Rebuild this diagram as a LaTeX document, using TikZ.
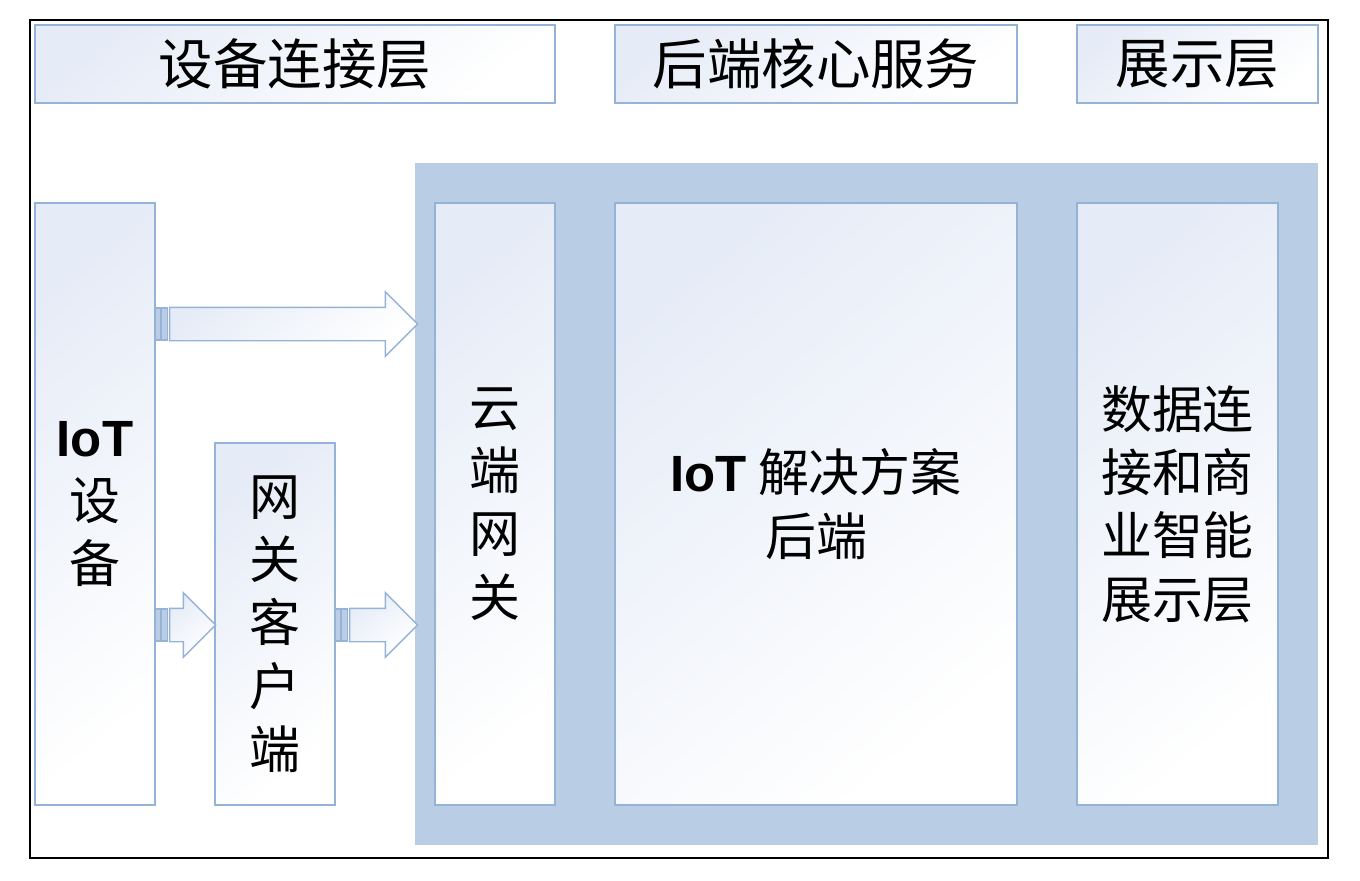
\documentclass[tikz,border=0pt]{standalone}
\usepackage{fontspec}
\setmainfont{Liberation Sans}
\newfontfamily\cjk{Noto Sans CJK SC}
\usetikzlibrary{shapes.arrows}
\usetikzlibrary{positioning}
\usetikzlibrary{calc}
\definecolor{lineblue}{HTML}{95B3D7}
\definecolor{backblue}{HTML}{B9CDE5}
\definecolor{shadeblue}{HTML}{E6ECF7}
\definecolor{barblue}{HTML}{8EAAD3}
\tikzset{
    layer/.style = {rectangle, draw=lineblue, line width=1pt, inner sep=0pt, align=center,
        top color=shadeblue, bottom color=white, shading angle=40,
        font=\cjk\fontsize{29}{36}\selectfont},
    header/.style = {layer, minimum height=1.56cm, font=\cjk\fontsize{31}{36}\selectfont},
    column/.style = {layer, minimum width=2.4cm},
    bigarrow/.style = {single arrow, draw=lineblue, line width=0.8pt, inner sep=0pt,
        text height=0.64cm, text depth=0pt, minimum width=1.26cm,
        single arrow head extend=0.31cm, anchor=west,
        top color=shadeblue, bottom color=white, shading angle=40},
    bar/.style = {draw=lineblue, line width=0.6pt, fill=barblue!60},
    frame/.style = {draw=black, line width=0.8pt}
}

\begin{document}
\begin{tikzpicture}[x=0.02cm, y=-0.02cm]
\useasboundingbox (0,0) rectangle (1360,880);
%
\draw[frame] (30,20) rectangle (1328,858);
\fill[backblue] (415,163) rectangle (1318,845);
%
\node[header, minimum width=10.4cm] at (295,64) (hdev) {设备连接层};
\node[header, minimum width=8.04cm] at (816,64) (hcore) {后端核心服务};
\node[header, minimum width=4.82cm] at (1197.5,64) (hshow) {展示层};
%
\node[column, minimum height=12.04cm] at (95,504) (dev) {{\normalfont\bfseries IoT}\\设\\备};
\node[column, minimum height=7.24cm] at (275,624) (gwc) {网\\关\\客\\户\\端};
\node[column, minimum height=12.04cm] at (495,504) (cgw) {云\\端\\网\\关};
\node[layer, minimum width=8.04cm, minimum height=12.04cm] at (816,504) (core) {{\normalfont\bfseries IoT} 解决方案\\后端};
\node[layer, minimum width=4.02cm, minimum height=12.04cm] at (1177.5,504) (show) {数据连\\接和商\\业智能\\展示层};
%
\coordinate (y1) at (0,324);
\coordinate (y2) at (0,625);
\node[bigarrow, minimum height=4.96cm] at ($(dev.east |- y1)+(13,0)$) (a1) {};
\node[bigarrow, minimum height=0.92cm] at ($(dev.east |- y2)+(13,0)$) (a2) {};
\node[bigarrow, minimum height=1.36cm] at ($(gwc.east |- y2)+(13,0)$) (a3) {};
\foreach \a in {a1,a2,a3} {
    \draw[bar] ($(\a.west)+(-13,-16)$) rectangle ($(\a.west)+(-8,16)$);
    \draw[bar] ($(\a.west)+(-7,-16)$) rectangle ($(\a.west)+(-1,16)$);
}

\end{tikzpicture}
\end{document}
